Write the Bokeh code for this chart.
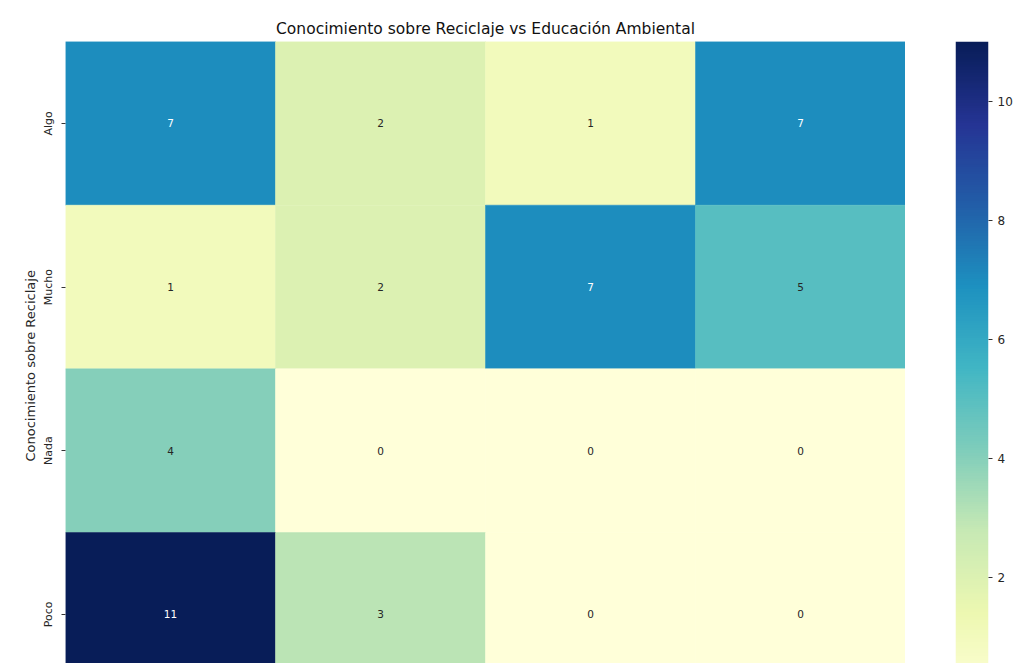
import numpy as np
from bokeh.plotting import figure
from bokeh.models import ColumnDataSource, LinearColorMapper, Range1d, FixedTicker, Title
from bokeh.layouts import row
from bokeh.embed import file_html
from bokeh.resources import INLINE
from bokeh.core.properties import value

# ---------------- data ----------------
title_text = "Conocimiento sobre Reciclaje vs Educación Ambiental"
y_label = "Conocimiento sobre Reciclaje"
rows = ["Algo", "Mucho", "Nada", "Poco"]
n_cols = 4  # column labels of "Educación Ambiental" are cut off in the reference
algo = [7, 2, 1, 7]
mucho = [1, 2, 7, 5]
nada = [4, 0, 0, 0]
poco = [11, 3, 0, 0]
vmin, vmax = 0, 11
cbar_ticks = [2, 4, 6, 8, 10]

matrix = [algo, mucho, nada, poco]

# ---------------- colour map (YlGnBu) ----------------
base = ["#ffffd9", "#edf8b1", "#c7e9b4", "#7fcdbb", "#41b6c4",
        "#1d91c0", "#225ea8", "#253494", "#081d58"]
base_rgb = np.array([[int(h[i:i + 2], 16) for i in (1, 3, 5)] for h in base], float)


def cmap(t):
    t = min(max(t, 0.0), 1.0) * (len(base) - 1)
    i = min(int(t), len(base) - 2)
    f = t - i
    return base_rgb[i] * (1 - f) + base_rgb[i + 1] * f


def to_hex(c):
    return "#%02x%02x%02x" % tuple(int(round(v)) for v in c)


palette = [to_hex(cmap(t)) for t in np.linspace(0, 1, 256)]
mapper = LinearColorMapper(palette=palette, low=vmin, high=vmax)


def text_color(v):
    c = cmap((v - vmin) / (vmax - vmin)) / 255.0
    lin = np.where(c <= 0.03928, c / 12.92, ((c + 0.055) / 1.055) ** 2.4)
    lum = 0.2126 * lin[0] + 0.7152 * lin[1] + 0.0722 * lin[2]
    return "#262626" if lum > 0.408 else "#ffffff"


xs, ys, vs, labels, tcs = [], [], [], [], []
nr = len(rows)
for ri, vals in enumerate(matrix):
    for ci, v in enumerate(vals):
        xs.append(ci + 0.5)
        ys.append(nr - 1 - ri + 0.5)
        vs.append(v)
        labels.append(str(v))
        tcs.append(text_color(v))

src = ColumnDataSource(dict(x=xs, y=ys, v=vs, label=labels, tc=tcs))

FONT = "DejaVu Sans"
VISIBLE_ROWS = 3.8  # the reference screenshot cuts the last row

# ---------------- heatmap ----------------
p = figure(frame_width=840, frame_height=622,
           x_range=Range1d(0, n_cols), y_range=Range1d(nr - VISIBLE_ROWS, nr),
           output_backend="svg", toolbar_location=None,
           x_axis_location=None,
           min_border_left=65, min_border_right=0,
           min_border_top=41, min_border_bottom=0,
           title=title_text)
p.title.align = "center"
p.title.text_font = FONT
p.title.text_font_size = "15.5px"
p.title.text_font_style = "normal"
p.title.text_color = "#111111"
p.title.standoff = 8

p.rect(x="x", y="y", width=1, height=1, source=src,
       fill_color={"field": "v", "transform": mapper},
       line_color={"field": "v", "transform": mapper}, line_width=0.5)
p.text(x="x", y="y", text="label", source=src,
       text_align="center", text_baseline="middle",
       text_font=value(FONT), text_font_size="10.5px", text_color="tc")

p.xgrid.visible = False
p.ygrid.visible = False
p.outline_line_color = None
p.yaxis.ticker = FixedTicker(ticks=[nr - 1 - i + 0.5 for i in range(nr)])
p.yaxis.major_label_overrides = {nr - 1 - i + 0.5: r for i, r in enumerate(rows)}
p.yaxis.major_label_orientation = "parallel"
p.yaxis.minor_tick_line_color = None
p.yaxis.axis_line_color = None
p.yaxis.major_tick_in = 0
p.yaxis.major_tick_out = 4
p.yaxis.major_tick_line_color = "#333333"
p.yaxis.major_label_text_font = FONT
p.yaxis.major_label_text_font_size = "11px"
p.yaxis.major_label_text_color = "#262626"
p.yaxis.major_label_standoff = 6

ylab = Title(text=y_label, align="left", offset=202,
             text_font=FONT, text_font_size="13px", text_font_style="normal",
             text_color="#262626", standoff=4)
p.add_layout(ylab, "left")

# ---------------- colour bar ----------------
cb = figure(frame_width=33, frame_height=622,
            x_range=Range1d(0, 1), y_range=Range1d(vmax * (1 - VISIBLE_ROWS / nr), vmax),
            output_backend="svg", toolbar_location=None,
            x_axis_location=None, y_axis_location="right",
            min_border_left=50, min_border_right=0,
            min_border_top=41, min_border_bottom=0)
grad = np.linspace(vmin, vmax, 600).reshape(-1, 1)
cb.image(image=[grad], x=0, y=vmin, dw=1, dh=vmax - vmin, color_mapper=mapper)
cb.xgrid.visible = False
cb.ygrid.visible = False
cb.outline_line_color = None
cb.yaxis.ticker = FixedTicker(ticks=cbar_ticks)
cb.yaxis.minor_tick_line_color = None
cb.yaxis.axis_line_color = None
cb.yaxis.major_tick_in = 0
cb.yaxis.major_tick_out = 4
cb.yaxis.major_tick_line_color = "#333333"
cb.yaxis.major_label_text_font = FONT
cb.yaxis.major_label_text_font_size = "12px"
cb.yaxis.major_label_text_color = "#262626"
cb.yaxis.major_label_standoff = 5

layout = row(p, cb)
open("out.html", "w").write(file_html(layout, INLINE))
